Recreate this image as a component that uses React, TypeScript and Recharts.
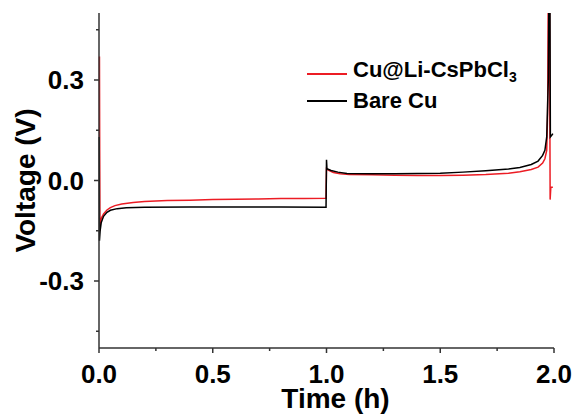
import { LineChart, Line, XAxis, YAxis } from "recharts";

const RED = "#ec1c24";
const AXIS = "#333";
const FONT = "'Liberation Sans', Arial, sans-serif";

// Cu@Li-CsPbCl3 trace
const cuTime = [
  0.002, 0.004, 0.006, 0.01, 0.02, 0.035, 0.05, 0.07, 0.1, 0.15, 0.2, 0.3, 0.4, 0.5,
  0.6, 0.7, 0.8, 0.9, 0.998, 1.0, 1.01, 1.03, 1.06, 1.1, 1.2, 1.3, 1.4, 1.5, 1.6,
  1.7, 1.8, 1.85, 1.9, 1.93, 1.95, 1.96, 1.968, 1.972, 1.975, 1.98, 1.983, 1.986,
  1.995,
];
const cuVolt = [
  0.37, -0.15, -0.125, -0.113, -0.1, -0.088, -0.081, -0.075, -0.07, -0.066,
  -0.063, -0.06, -0.059, -0.057, -0.056, -0.055, -0.054, -0.054, -0.053, 0.035,
  0.03, 0.024, 0.02, 0.018, 0.017, 0.016, 0.015, 0.015, 0.016, 0.018, 0.022,
  0.026, 0.033, 0.04, 0.052, 0.065, 0.09, 0.2, 0.6, 0.6, -0.057, -0.02, -0.02,
];

// Bare Cu trace
const bareTime = [
  0.001, 0.002, 0.005, 0.01, 0.02, 0.035, 0.05, 0.08, 0.12, 0.2, 0.4, 0.6, 0.8,
  0.998, 1.0, 1.002, 1.02, 1.05, 1.09, 1.2, 1.3, 1.4, 1.5, 1.6, 1.7, 1.8, 1.85,
  1.9, 1.93, 1.95, 1.96, 1.968, 1.975, 1.978, 1.982, 1.984, 1.99, 1.995,
];
const bareVolt = [
  0.13, -0.18, -0.15, -0.125, -0.107, -0.095, -0.089, -0.084, -0.081, -0.08,
  -0.079, -0.079, -0.079, -0.08, 0.062, 0.035, 0.03, 0.025, 0.021, 0.02, 0.02,
  0.021, 0.022, 0.025, 0.029, 0.034, 0.039, 0.048, 0.058, 0.075, 0.09, 0.13,
  0.3, 0.6, 0.6, 0.13, 0.135, 0.14,
];

const xTicks = [0, 0.25, 0.5, 0.75, 1, 1.25, 1.5, 1.75, 2];
const xMajor = [0, 0.5, 1, 1.5, 2];
const yTicks = [-0.45, -0.3, -0.15, 0, 0.15, 0.3, 0.45];
const yMajor = [-0.3, 0, 0.3];

const toPoints = (t: number[], v: number[]) =>
  t.map((time, i) => ({ time, volt: v[i] }));

const cuData = toPoints(cuTime, cuVolt);
const bareData = toPoints(bareTime, bareVolt);

const tickStyle = { fill: "#000", fontSize: 26, fontWeight: 700, fontFamily: FONT };
const X_GAP = 17;
const Y_GAP = 15;

function XTick({ x, y, payload }: any) {
  const major = xMajor.includes(payload.value);
  const y0 = y - X_GAP;
  return (
    <g>
      <line x1={x} x2={x} y1={y0} y2={y0 + (major ? 5 : 3)} stroke={AXIS} strokeWidth={1.5} />
      {major && (
        <text x={x} y={y} dy="0.71em" textAnchor="middle" style={tickStyle}>
          {payload.value.toFixed(1)}
        </text>
      )}
    </g>
  );
}

function YTick({ x, y, payload }: any) {
  const major = yMajor.includes(payload.value);
  const x0 = x + Y_GAP;
  return (
    <g>
      <line x1={x0} x2={x0 - (major ? 5 : 3)} y1={y} y2={y} stroke={AXIS} strokeWidth={1.5} />
      {major && (
        <text x={x} y={y} dy="0.355em" textAnchor="end" style={tickStyle}>
          {payload.value.toFixed(1)}
        </text>
      )}
    </g>
  );
}

function LegendBox() {
  const rows = [
    { color: RED, label: <>Cu@Li-CsPbCl<sub style={{ fontSize: 14 }}>3</sub></> },
    { color: "#000", label: <>Bare Cu</> },
  ];
  return (
    <div
      style={{
        position: "absolute",
        left: 307,
        top: 60,
        fontFamily: FONT,
        fontWeight: 700,
        fontSize: 22,
        color: "#000",
      }}
    >
      {rows.map((r, i) => (
        <div key={i} style={{ display: "flex", alignItems: "center", height: 27 }}>
          <span
            style={{
              display: "inline-block",
              width: 40,
              borderTop: `2px solid ${r.color}`,
              marginRight: 6,
            }}
          />
          <span style={{ lineHeight: "22px" }}>{r.label}</span>
        </div>
      ))}
    </div>
  );
}

export default function App() {
  return (
    <div style={{ position: "absolute", left: 0, top: 0, width: 577, height: 416, background: "#fff" }}>
      <LineChart
        width={577}
        height={416}
        margin={{ top: 13, right: 23, left: 0, bottom: 0 }}
      >
        <XAxis
          dataKey="time"
          type="number"
          domain={[0, 2]}
          ticks={xTicks}
          tick={<XTick />}
          tickSize={0}
          tickMargin={X_GAP}
          tickLine={false}
          height={68}
          interval={0}
          axisLine={{ stroke: AXIS, strokeWidth: 1.5 }}
          allowDuplicatedCategory={false}
          label={{
            value: "Time (h)",
            position: "insideBottom",
            offset: 8,
            dx: 9,
            style: { fill: "#000", fontSize: 28, fontWeight: 700, fontFamily: FONT },
          }}
        />
        <XAxis
          xAxisId="top"
          orientation="top"
          type="number"
          domain={[0, 2]}
          height={0}
          tick={false}
          tickLine={false}
          axisLine={{ stroke: AXIS, strokeWidth: 1.5 }}
        />
        <YAxis
          type="number"
          domain={[-0.5, 0.5]}
          allowDataOverflow
          ticks={yTicks}
          tick={<YTick />}
          tickSize={0}
          tickMargin={Y_GAP}
          tickLine={false}
          interval={0}
          width={99}
          axisLine={{ stroke: AXIS, strokeWidth: 1.5 }}
          label={{
            value: "Voltage (V)",
            angle: -90,
            position: "insideLeft",
            offset: 25,
            style: {
              fill: "#000",
              fontSize: 28,
              fontWeight: 700,
              fontFamily: FONT,
              textAnchor: "middle",
            },
          }}
        />
        <YAxis
          yAxisId="right"
          orientation="right"
          type="number"
          domain={[-0.5, 0.5]}
          width={0}
          tick={false}
          tickLine={false}
          axisLine={{ stroke: AXIS, strokeWidth: 1.5 }}
        />
        <Line
          data={cuData}
          dataKey="volt"
          name="Cu@Li-CsPbCl3"
          stroke={RED}
          strokeWidth={1.5}
          dot={false}
          isAnimationActive={false}
        />
        <Line
          data={bareData}
          dataKey="volt"
          name="Bare Cu"
          stroke="#000"
          strokeWidth={1.5}
          dot={false}
          isAnimationActive={false}
        />
      </LineChart>
      <LegendBox />
    </div>
  );
}
